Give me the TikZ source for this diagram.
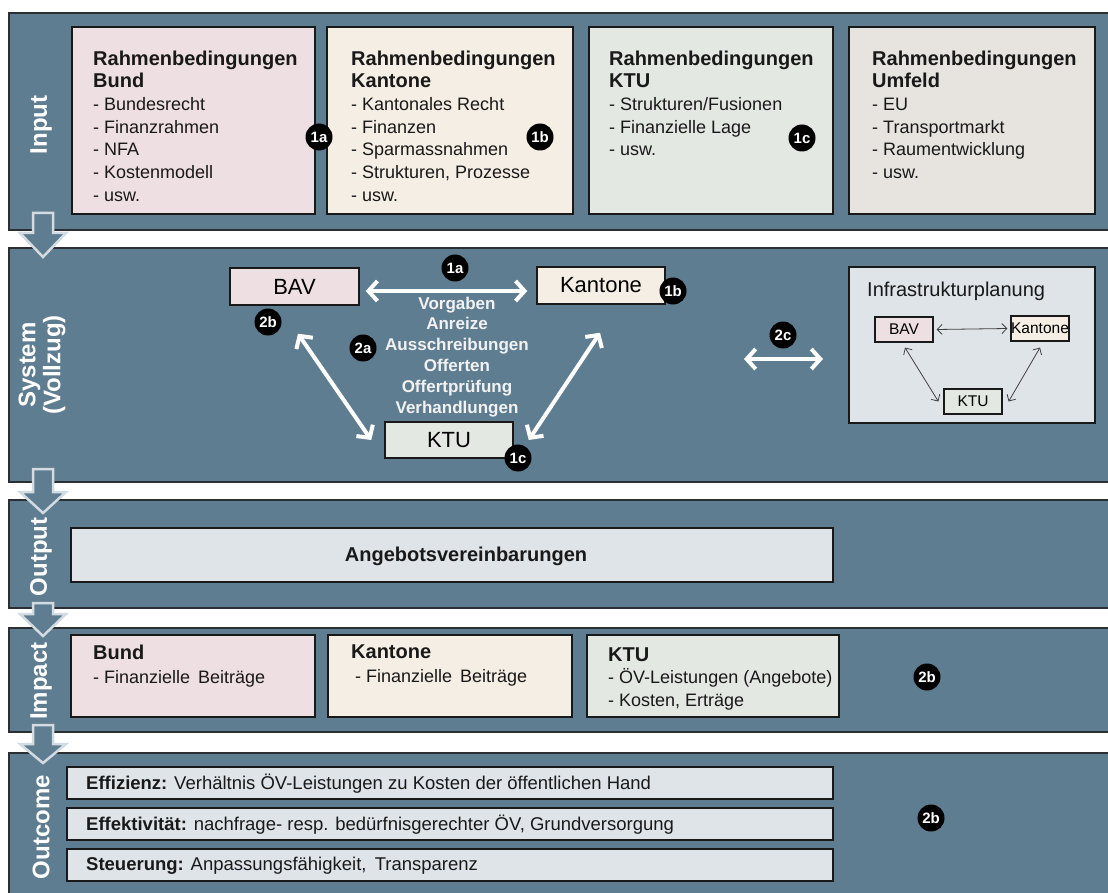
\documentclass[tikz,border=0pt]{standalone}
\usepackage{fontspec}
\setmainfont{Liberation Sans}
\usetikzlibrary{arrows.meta,calc}
\definecolor{bandcol}{HTML}{5F7D91}
\definecolor{bandline}{HTML}{2B2F33}
\definecolor{pinkc}{HTML}{EEDFE2}
\definecolor{beigec}{HTML}{F5EEE4}
\definecolor{greenc}{HTML}{E3E8E2}
\definecolor{greyc}{HTML}{E7E4E0}
\definecolor{bluec}{HTML}{DEE4E8}
\definecolor{arrline}{HTML}{D3DBE2}
\newcommand\hdg[1]{{\bfseries\fontsize{20}{22.7}\selectfont #1}}
\begin{document}
\begin{tikzpicture}[x=1pt,y=-1pt,
  bandbox/.style={draw=bandline,fill=bandcol,line width=1.5pt},
  box/.style={draw=black!90,line width=1.5pt,inner sep=0pt},
  txt/.style={align=left,inner sep=0pt,text=black!90,font=\fontsize{18}{22.7}\selectfont},
  badge/.style={circle,fill=black,text=white,minimum size=27pt,inner sep=0pt,font=\bfseries\fontsize{15}{15}\selectfont},
  bandlabel/.style={rotate=90,text=white,align=center,inner sep=0pt,font=\bfseries\fontsize{24}{25}\selectfont},
  downarrow/.style={fill=bandcol,draw=arrline,line width=2.5pt,line join=miter},
  warrow/.style={draw=white,line width=4pt,{Straight Barb[length=9pt,width=20pt]}-{Straight Barb[length=9pt,width=20pt]}},
  iarrow/.style={draw=black!75,line width=0.8pt,{Straight Barb[length=5pt,width=10pt]}-{Straight Barb[length=5pt,width=10pt]}}
]
\path[use as bounding box] (0,0) rectangle (1108,893);
\fill[white] (0,0) rectangle (1108,893);

% bands
\draw[bandbox] (9,13) rectangle (1120,230);
\draw[bandbox] (9,248) rectangle (1120,482);
\draw[bandbox] (9,500) rectangle (1120,608);
\draw[bandbox] (9,628) rectangle (1120,732);
\draw[bandbox] (9,753) rectangle (1120,905);

% ---------- Input
\node[box,fill=pinkc,minimum width=243pt,minimum height=187pt] (inBund) at (193.5,120.5) {};
\node[box,fill=beigec,minimum width=246pt,minimum height=187pt] (inKant) at (450,120.5) {};
\node[box,fill=greenc,minimum width=244pt,minimum height=187pt] (inKTU) at (711,120.5) {};
\node[box,fill=greyc,minimum width=246pt,minimum height=187pt] (inUmf) at (972,120.5) {};

\node[txt,anchor=north west] (tinBund) at (93,50.5) {\hdg{Rahmenbedingungen}\\\hdg{Bund}\\- Bundesrecht\\- Finanzrahmen\\- NFA\\- Kostenmodell\\- usw.};
\node[txt,anchor=north west] (tinKant) at (351,50.5) {\hdg{Rahmenbedingungen}\\\hdg{Kantone}\\- Kantonales Recht\\- Finanzen\\- Sparmassnahmen\\- Strukturen, Prozesse\\- usw.};
\node[txt,anchor=north west] (tinKTU) at (609,50.5) {\hdg{Rahmenbedingungen}\\\hdg{KTU}\\- Strukturen/Fusionen\\- Finanzielle Lage\\- usw.};
\node[txt,anchor=north west] (tinUmf) at (872,50.5) {\hdg{Rahmenbedingungen}\\\hdg{Umfeld}\\- EU\\- Transportmarkt\\- Raumentwicklung\\- usw.};

\node[badge] (b1a) at (319,137) {1a};
\node[badge] (b1b) at (540,137) {1b};
\node[badge] (b1c) at (802,138) {1c};

% ---------- System
\node[box,fill=pinkc,minimum width=129pt,minimum height=37pt,font=\fontsize{22}{22}\selectfont] (sBAV) at (294.5,286.5) {BAV};
\node[box,fill=beigec,minimum width=128pt,minimum height=37pt,font=\fontsize{22}{22}\selectfont] (sKant) at (601,285.5) {Kantone};
\node[box,fill=greenc,minimum width=128pt,minimum height=36pt,font=\fontsize{22}{22}\selectfont] (sKTU) at (449,440) {KTU};

\node[align=center,inner sep=0pt,text=white!95!black,anchor=north,font=\bfseries\fontsize{17}{20.8}\selectfont] (sTxt) at (457,296.5)
 {Vorgaben\\Anreize\\Ausschreibungen\\Offerten\\Offertprüfung\\Verhandlungen};

\draw[warrow] ([xshift=6pt,yshift=-4.5pt]sBAV.east) -- ([xshift=-9pt,yshift=-5.5pt]sKant.west);
\draw[warrow] ([xshift=3.5pt,yshift=-28pt]sBAV.south) -- ([xshift=-13pt]sKTU.west);
\draw[warrow] ([xshift=-1pt,yshift=-28pt]sKant.south) -- ([xshift=15pt]sKTU.east);

\node[badge] (s1a) at (455,268) {1a};
\node[badge] (s1b) at (673,291) {1b};
\node[badge] (s2b) at (268,322) {2b};
\node[badge] (s2a) at (363,348) {2a};
\node[badge] (s1c) at (518,458) {1c};

% Infrastrukturplanung
\node[box,fill=bluec,minimum width=246pt,minimum height=156pt] (infra) at (972,345) {};
\node[inner sep=0pt,anchor=west,font=\fontsize{20}{20}\selectfont,text=black!90] (infraT) at (867,291) {Infrastrukturplanung};
\node[box,line width=1.2pt,fill=pinkc,minimum width=58pt,minimum height=25pt,font=\fontsize{15.5}{15.5}\selectfont] (iBAV) at (904,329.5) {BAV};
\node[box,line width=1.2pt,fill=beigec,minimum width=58pt,minimum height=25pt,font=\fontsize{15.5}{15.5}\selectfont] (iKant) at (1040,328.5) {Kantone};
\node[box,line width=1.2pt,fill=greenc,minimum width=58pt,minimum height=25pt,font=\fontsize{15.5}{15.5}\selectfont] (iKTU) at (973,401.5) {KTU};
\draw[iarrow] ([xshift=3pt]iBAV.east) -- ([xshift=-3pt]iKant.west);
\draw[iarrow] ([xshift=1pt,yshift=-5pt]iBAV.south) -- ([xshift=-5pt]iKTU.west);
\draw[iarrow] ([yshift=-6pt]iKant.south) -- ([xshift=6pt]iKTU.east);

\coordinate (c2l) at (744,359);
\coordinate (c2r) at (823,359);
\draw[warrow] (c2l) -- (c2r);
\node[badge] (s2c) at (783,335) {2c};

% ---------- Output
\node[box,fill=bluec,minimum width=762pt,minimum height=54pt] (outBox) at (452,555) {};
\node[inner sep=0pt,font=\bfseries\fontsize{20}{20}\selectfont,text=black!90] (outT) at (466,556) {Angebotsvereinbarungen};

% ---------- Impact
\node[box,fill=pinkc,minimum width=244pt,minimum height=82pt] (imBund) at (193,676) {};
\node[box,fill=beigec,minimum width=244pt,minimum height=82pt] (imKant) at (450,676) {};
\node[box,fill=greenc,minimum width=252pt,minimum height=82pt] (imKTU) at (713,676) {};
\node[txt,anchor=north west,font=\fontsize{18}{24}\selectfont] (timBund) at (93,644.5) {\hdg{Bund}\\- Finanzielle\, Beiträge};
\node[txt,anchor=north west,font=\fontsize{18}{24}\selectfont] (timKant) at (351,644.5) {\hdg{Kantone}\\\hspace*{4pt}- Finanzielle\, Beiträge};
\node[txt,anchor=north west,font=\fontsize{18}{22.5}\selectfont] (timKTU) at (608,647.5) {\hdg{KTU}\\- ÖV-Leistungen (Angebote)\\- Kosten, Erträge};
\node[badge] (im2b) at (927,677) {2b};

% ---------- Outcome
\node[box,fill=bluec,minimum width=766pt,minimum height=32pt] (ocEff) at (450,783) {};
\node[box,fill=bluec,minimum width=766pt,minimum height=32pt] (ocEkt) at (450,824) {};
\node[box,fill=bluec,minimum width=766pt,minimum height=32pt] (ocSt) at (450,865) {};
\node[txt,anchor=west,font=\fontsize{18.5}{20}\selectfont] (tEff) at (86,784) {\textbf{Effizienz:} Verhältnis ÖV-Leistungen zu Kosten der öffentlichen Hand};
\node[txt,anchor=west,font=\fontsize{18.5}{20}\selectfont] (tEkt) at (86,825) {\textbf{Effektivität:} nachfrage- resp. bedürfnisgerechter ÖV, Grundversorgung};
\node[txt,anchor=west,font=\fontsize{18.5}{20}\selectfont] (tSt) at (86,866) {\textbf{Steuerung:} Anpassungsfähigkeit,\, Transparenz};
\node[badge] (oc2b) at (931,818) {2b};

% ---------- down arrows
\draw[downarrow] (33,213) -- (53,213) -- (53,233) -- (66,233) -- (43,257) -- (20,233) -- (33,233) -- cycle;
\draw[downarrow] (33,469) -- (53,469) -- (53,492) -- (66,492) -- (43,513) -- (20,492) -- (33,492) -- cycle;
\draw[downarrow] (33,603) -- (53,603) -- (53,614) -- (66,614) -- (43,636) -- (20,614) -- (33,614) -- cycle;
\draw[downarrow] (33,725) -- (53,725) -- (53,744) -- (66,744) -- (43,763) -- (20,744) -- (33,744) -- cycle;

% band labels
\node[bandlabel] (lIn) at (41,125) {Input};
\node[bandlabel] (lSys) at (42,365) {System\\(Vollzug)};
\node[bandlabel] (lOut) at (41,557) {Output};
\node[bandlabel] (lImp) at (41,681) {Impact};
\node[bandlabel] (lOc) at (41,827) {Outcome};
\end{tikzpicture}
\end{document}
